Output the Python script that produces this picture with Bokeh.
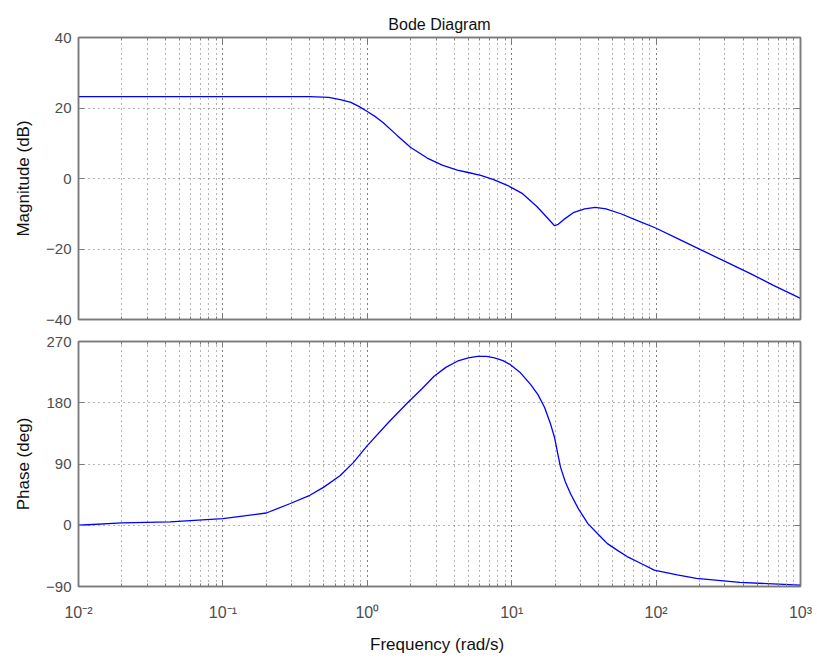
from bokeh.plotting import figure
from bokeh.layouts import column
from bokeh.models import (FixedTicker, LogAxis, LinearAxis, CustomJSTickFormatter, Range1d)
from bokeh.embed import file_html
from bokeh.resources import INLINE

# Magnitude data (rad/s, dB)
mag_freq = [0.01, 0.02, 0.05, 0.1, 0.2, 0.4, 0.54, 0.65, 0.77, 0.88, 1.0, 1.15, 1.29, 1.6, 2.0, 2.6, 3.3, 4.2, 5.0, 6.1, 7.5, 9.4, 11.9, 15.0, 17.5, 19.8, 21.0, 23.0, 27.0, 32.0, 38.0, 45.0, 57.0, 75.0, 97.5, 140.0, 203.0, 300.0, 450.0, 650.0, 1000.0]
mag_db = [23.2, 23.2, 23.2, 23.2, 23.2, 23.2, 23.0, 22.4, 21.6, 20.4, 19.0, 17.4, 15.8, 12.3, 8.8, 5.8, 3.8, 2.4, 1.7, 0.9, -0.3, -2.0, -4.3, -8.0, -11.0, -13.4, -13.0, -11.6, -9.6, -8.6, -8.2, -8.6, -10.0, -12.0, -13.9, -17.0, -20.2, -23.5, -27.0, -30.3, -34.0]

# Phase data (rad/s, deg)
ph_freq = [0.01, 0.02, 0.043, 0.1, 0.2, 0.29, 0.4, 0.5, 0.65, 0.8, 1.0, 1.4, 1.9, 2.4, 2.9, 3.5, 4.2, 5.0, 5.8, 6.7, 7.6, 8.7, 9.8, 11.5, 13.5, 15.2, 16.9, 18.5, 19.8, 20.8, 21.8, 23.5, 25.6, 29.0, 33.7, 40.0, 46.0, 55.0, 63.0, 80.0, 97.0, 140.0, 190.0, 380.0, 1000.0]
ph_deg = [0.0, 3.5, 5.0, 9.7, 18.0, 31.6, 44.0, 56.0, 73.0, 92.0, 117.0, 151.0, 180.0, 201.0, 219.0, 232.0, 241.0, 246.0, 248.0, 248.0, 246.0, 242.0, 236.0, 224.0, 207.0, 192.0, 173.0, 150.0, 129.0, 106.0, 85.0, 64.0, 46.0, 24.0, 2.4, -14.0, -27.0, -38.0, -46.0, -57.0, -66.0, -73.0, -78.0, -84.0, -88.0]

mag_ticks = [-40, -20, 0, 20, 40]
ph_ticks = [-90, 0, 90, 180, 270]
x_ticks = [0.01, 0.1, 1, 10, 100, 1000]
x_tick_labels = ["10\u207b\u00b2", "10\u207b\u00b9", "10\u2070", "10\u00b9", "10\u00b2", "10\u00b3"]

FONT = "Liberation Sans"
FRAME = "#7a7a7a"
GRID = "#6a6a6a"
TICKLAB = "#4d4d4d"

LEFT = 78
RIGHT = 12
FRAME_W = 722


def style_axis(ax, show_labels):
    ax.axis_line_color = FRAME
    ax.axis_line_width = 1.5
    ax.major_tick_line_color = FRAME
    ax.minor_tick_line_color = FRAME
    ax.major_tick_in = 6
    ax.major_tick_out = 0
    ax.minor_tick_in = 3
    ax.minor_tick_out = 0
    ax.major_label_text_font = FONT
    ax.major_label_text_font_size = "15px"
    ax.major_label_text_color = TICKLAB
    ax.axis_label_text_font = FONT
    ax.axis_label_text_font_size = "17px"
    ax.axis_label_text_font_style = "normal"
    ax.axis_label_text_color = "#111111"
    if not show_labels:
        ax.major_label_text_font_size = "1px"
        ax.major_label_standoff = 0
        ax.formatter = CustomJSTickFormatter(code="return ''")


def make_fig(fh, ymin, ymax, yticks, top_border, bottom_border, show_x_labels, ylabel, title=None):
    p = figure(x_axis_type="log", width=LEFT + FRAME_W + RIGHT, height=top_border + fh + bottom_border,
               x_range=Range1d(0.01, 1000), y_range=Range1d(ymin, ymax),
               output_backend="svg", toolbar_location=None,
               min_border_left=LEFT, min_border_right=RIGHT,
               min_border_top=top_border, min_border_bottom=bottom_border,
               title=title)
    p.outline_line_color = FRAME
    p.outline_line_width = 1.5
    p.background_fill_color = "white"
    p.border_fill_color = "white"
    p.yaxis.ticker = FixedTicker(ticks=yticks)
    p.xaxis.ticker.num_minor_ticks = 10
    style_axis(p.xaxis[0], show_x_labels)
    style_axis(p.yaxis[0], True)
    p.yaxis[0].minor_tick_line_color = None
    p.yaxis[0].axis_label = ylabel
    p.yaxis[0].major_label_standoff = 7
    p.yaxis[0].axis_label_standoff = 10
    if show_x_labels:
        p.xaxis[0].major_label_overrides = dict(zip(x_ticks, x_tick_labels))
        p.xaxis[0].major_label_text_font_size = "16px"
        p.xaxis[0].axis_label = "Frequency  (rad/s)"
        p.xaxis[0].major_label_standoff = 17
        p.xaxis[0].axis_label_standoff = 11
    # right / top axes with ticks only
    ra = LinearAxis(ticker=FixedTicker(ticks=yticks))
    style_axis(ra, False)
    ra.minor_tick_line_color = None
    p.add_layout(ra, "right")
    ta = LogAxis()
    ta.ticker.num_minor_ticks = 10
    style_axis(ta, False)
    p.add_layout(ta, "above")
    # grid
    p.xgrid.grid_line_color = GRID
    p.xgrid.grid_line_dash = "1 4"
    p.xgrid.minor_grid_line_color = GRID
    p.xgrid.minor_grid_line_dash = "1 4"
    p.ygrid.grid_line_color = GRID
    p.ygrid.grid_line_dash = "1 4"
    p.ygrid.ticker = FixedTicker(ticks=yticks)
    if title is not None:
        p.title.align = "center"
        p.title.text_font = FONT
        p.title.text_font_size = "16px"
        p.title.text_font_style = "normal"
        p.title.text_color = "#111111"
    return p


p1 = make_fig(282, -40, 40, mag_ticks, 37, 11, False, "Magnitude (dB)", title="Bode Diagram")
p1.line(mag_freq, mag_db, line_color="#0000ff", line_width=1.3)

p2 = make_fig(247, -90, 270, ph_ticks, 11, 68, True, "Phase (deg)")
p2.line(ph_freq, ph_deg, line_color="#0000ff", line_width=1.3)

layout = column(p1, p2, spacing=0)
open("out.html", "w").write(file_html(layout, INLINE))
